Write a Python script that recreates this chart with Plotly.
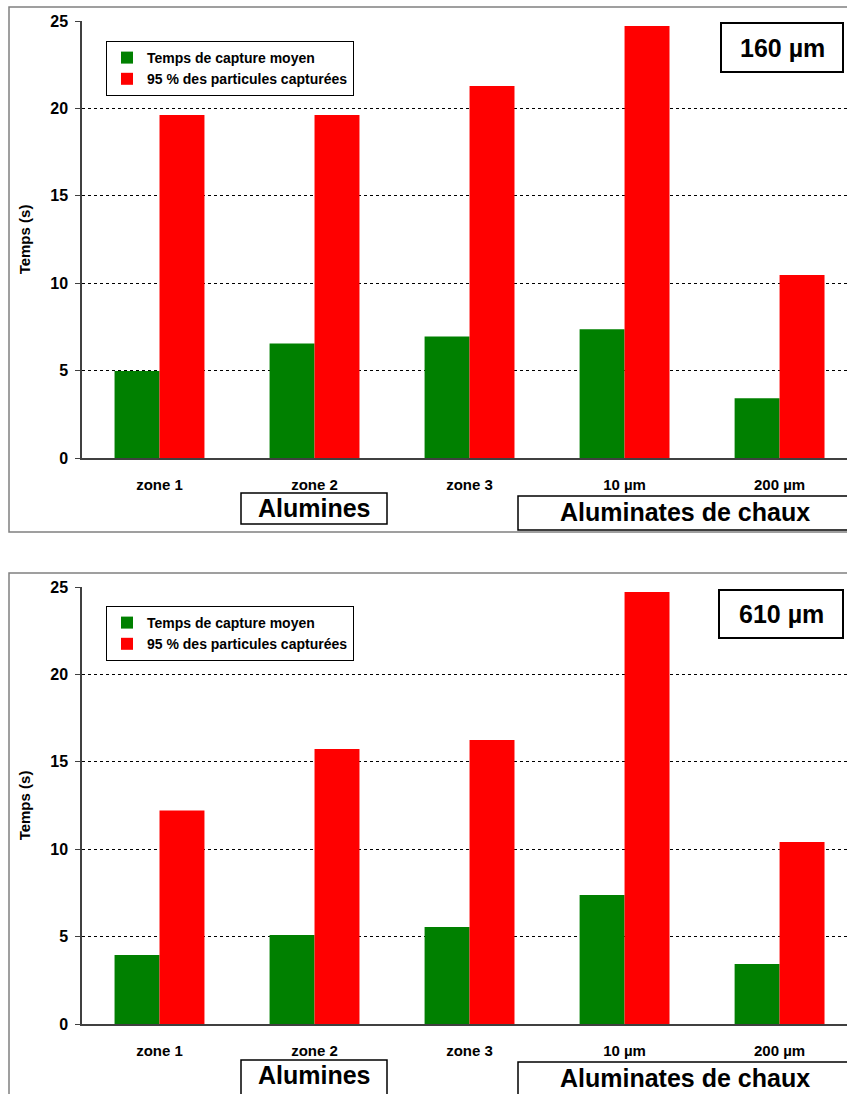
import plotly.graph_objects as go

categories = ["zone 1", "zone 2", "zone 3", "10 µm", "200 µm"]
series_names = ["Temps de capture moyen", "95 % des particules capturées"]
mean_160 = [4.98, 6.55, 6.95, 7.37, 3.42]
p95_160 = [19.62, 19.62, 21.28, 24.71, 10.47]
mean_610 = [3.95, 5.09, 5.55, 7.38, 3.43]
p95_610 = [12.22, 15.73, 16.25, 24.71, 10.41]
y_ticks = [0, 5, 10, 15, 20, 25]
panel_titles = ["160 µm", "610 µm"]
group_labels = ["Alumines", "Aluminates de chaux"]
y_title = "Temps (s)"
colors = ["#008000", "#FF0000"]

W, H = 847, 1094
FONT = "Liberation Sans, Arial, sans-serif"


def px(x):
    return x / W


def py(y):
    return 1 - y / H


fig = go.Figure()

panels = [
    dict(mean=mean_160, p95=p95_160, xa="x", ya="y", legend="legend",
         top=21, bottom=458, frame_top=7, frame_bottom=532, title_box=(721, 23, 843, 72),
         leg_y=41, alu_box=(241, 493, 387, 524), ac_box=(518, 496, 880, 530)),
    dict(mean=mean_610, p95=p95_610, xa="x2", ya="y2", legend="legend2",
         top=587, bottom=1024, frame_top=573, frame_bottom=1130, title_box=(719, 590, 843, 638),
         leg_y=606, alu_box=(241, 1060, 387, 1130), ac_box=(518, 1062, 880, 1130)),
]

for i, p in enumerate(panels):
    for name, vals, col in zip(series_names, [p["mean"], p["p95"]], colors):
        fig.add_trace(go.Bar(x=categories, y=vals, name=name, marker_color=col,
                             marker_line_width=0, xaxis=p["xa"], yaxis=p["ya"],
                             legend=p["legend"]))

axis_common_x = dict(type="category", range=[-0.5, 4.435], showgrid=False, zeroline=False,
                     showline=True, linecolor="#404040", linewidth=1.5, ticks="",
                     tickfont=dict(family=FONT, size=15, color="black", weight="bold"),
                     ticklabelstandoff=12, automargin=False, fixedrange=True)
axis_common_y = dict(range=[0, 25], tickvals=y_ticks, showgrid=True, gridcolor="black",
                     griddash="3px,3px", gridwidth=1, zeroline=False, showline=True,
                     linecolor="#404040", linewidth=1.5, ticks="outside", ticklen=5,
                     tickcolor="#404040", tickfont=dict(family=FONT, size=16, color="black", weight="bold"),
                     ticklabelstandoff=4, automargin=False,
                     title=dict(text=y_title, font=dict(family=FONT, size=15, color="black", weight="bold"),
                                standoff=16))

x0 = px(82)
fig.update_layout(
    width=W, height=H, autosize=False,
    margin=dict(l=0, r=0, t=0, b=0, pad=0),
    paper_bgcolor="white", plot_bgcolor="white",
    barmode="group", bargap=0.42, bargroupgap=0,
    font=dict(family=FONT, color="black"),
    xaxis=dict(domain=[x0, 1], anchor="y", **axis_common_x),
    yaxis=dict(domain=[py(panels[0]["bottom"]), py(panels[0]["top"])], anchor="x", **axis_common_y),
    xaxis2=dict(domain=[x0, 1], anchor="y2", **axis_common_x),
    yaxis2=dict(domain=[py(panels[1]["bottom"]), py(panels[1]["top"])], anchor="x2", **axis_common_y),
)

shapes = []
annotations = []
for i, p in enumerate(panels):
    leg = dict(x=px(106), y=py(p["leg_y"]), xanchor="left", yanchor="top",
               bgcolor="white", bordercolor="black", borderwidth=1,
               font=dict(family=FONT, size=14, color="black", weight="bold"),
               tracegroupgap=0, itemclick=False, itemdoubleclick=False)
    fig.update_layout(**{p["legend"]: leg})
    # outer frame
    shapes.append(dict(type="rect", xref="paper", yref="paper", x0=px(9), x1=px(880),
                       y0=py(p["frame_bottom"]), y1=py(p["frame_top"]),
                       line=dict(color="#808080", width=1.5), fillcolor="rgba(0,0,0,0)", layer="below"))
    # title box
    tx0, ty0, tx1, ty1 = p["title_box"]
    shapes.append(dict(type="rect", xref="paper", yref="paper", x0=px(tx0), x1=px(tx1),
                       y0=py(ty1), y1=py(ty0), line=dict(color="black", width=2), fillcolor="white"))
    annotations.append(dict(text=panel_titles[i], xref="paper", yref="paper",
                            x=px((tx0 + tx1) / 2), y=py((ty0 + ty1) / 2), showarrow=False,
                            xanchor="center", yanchor="middle",
                            font=dict(family=FONT, size=25, color="black", weight="bold")))
    # group label boxes
    for (bx0, by0, bx1, by1), lab in zip([p["alu_box"], p["ac_box"]], group_labels):
        shapes.append(dict(type="rect", xref="paper", yref="paper", x0=px(bx0), x1=px(bx1),
                           y0=py(by1), y1=py(by0), line=dict(color="black", width=1.5), fillcolor="white"))
    ax0, ay0, ax1, ay1 = p["alu_box"]
    annotations.append(dict(text=group_labels[0], xref="paper", yref="paper",
                            x=px(314), y=py(ay0 + 15), showarrow=False, xanchor="center", yanchor="middle",
                            font=dict(family=FONT, size=25, color="black", weight="bold")))
    cx0, cy0, cx1, cy1 = p["ac_box"]
    annotations.append(dict(text=group_labels[1], xref="paper", yref="paper",
                            x=px(685), y=py(cy0 + 16), showarrow=False, xanchor="center", yanchor="middle",
                            font=dict(family=FONT, size=25, color="black", weight="bold")))

fig.update_layout(shapes=shapes, annotations=annotations)
fig.write_html("out.html", config={"displayModeBar": False},
               post_script="document.body.style.margin='0';document.body.style.overflow='hidden';")
